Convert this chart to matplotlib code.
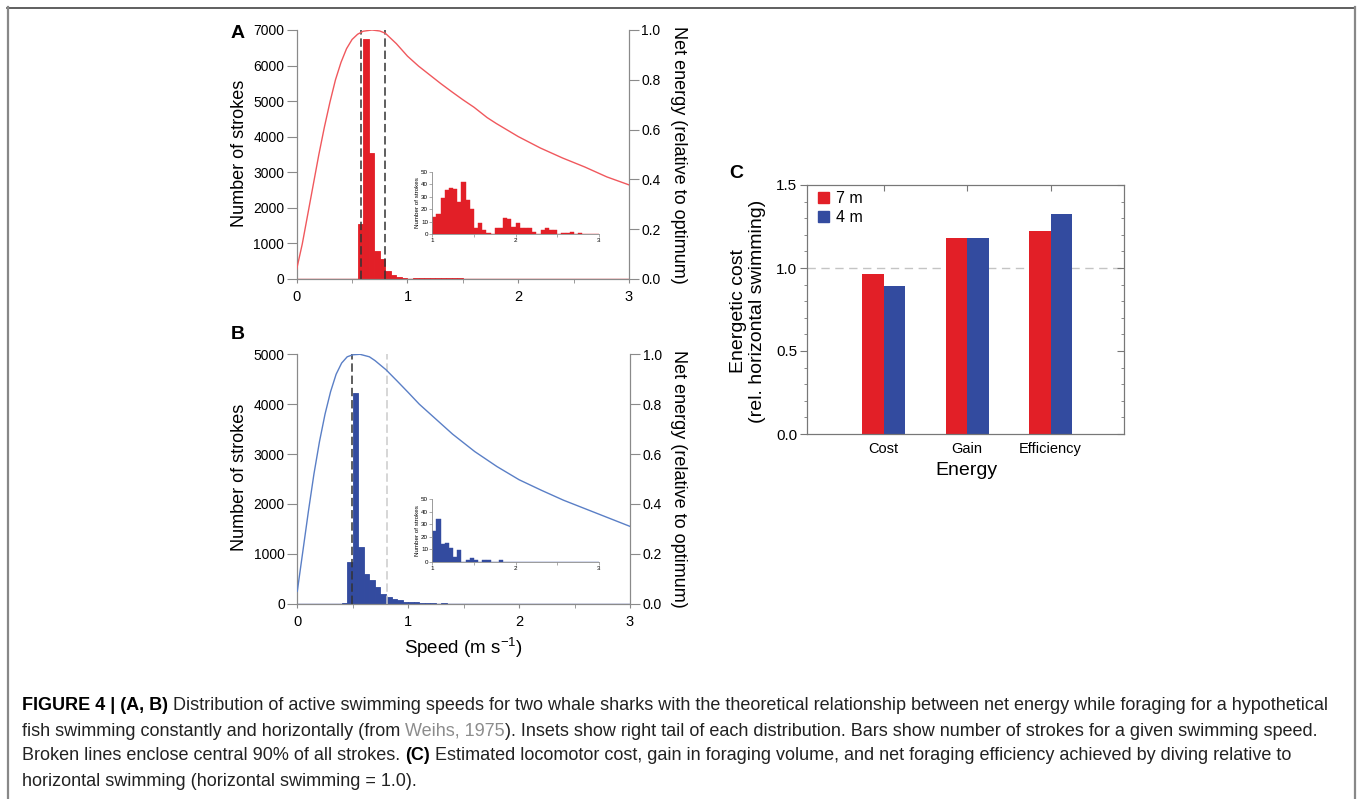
import numpy as np
import matplotlib
matplotlib.use('Agg')
import matplotlib.pyplot as plt
from matplotlib.lines import Line2D
from matplotlib.patches import Patch

plt.rcParams['font.family'] = ['Liberation Sans', 'DejaVu Sans']
plt.rcParams['mathtext.fontset'] = 'custom'
plt.rcParams['mathtext.rm'] = 'Liberation Sans'
plt.rcParams['mathtext.it'] = 'Liberation Sans:italic'

# ---- data ----
# histogram bins: left edge of each 0.05 m/s bin
bin_left = np.round(np.arange(0, 3, 0.05), 2)
bin_width = 0.05

strokes_7m = ([0] * 11 +
              [1550, 6750, 3530, 780, 550, 230, 100, 45, 20] +
              [14, 16, 29, 35, 37, 36, 26, 42, 27, 20,
               5, 9, 3, 1, 0, 5, 5, 13, 12, 6,
               9, 5, 5, 5, 2, 0, 3, 5, 3, 3,
               0, 1, 1, 2, 0, 1, 0, 0, 0, 0])
strokes_4m = ([0] * 8 +
              [10, 842, 4230, 1143, 595, 475, 341, 187, 140, 100, 67, 40] +
              [25, 34, 14, 15, 11, 4, 9, 0, 1, 3,
               1, 0, 1, 1, 0, 0, 1, 0, 0, 0] +
              [0] * 20)

# net energy curves (Weihs 1975)
curve_speed_7m = [0.00, 0.05, 0.10, 0.15, 0.20, 0.25, 0.30, 0.35, 0.40, 0.45,
                  0.50, 0.55, 0.60, 0.68, 0.75, 0.80, 0.90, 1.00, 1.10, 1.20,
                  1.30, 1.40, 1.50, 1.60, 1.72, 1.80, 2.00, 2.20, 2.40, 2.60,
                  2.80, 3.00]
curve_energy_7m = [0.04, 0.14, 0.26, 0.38, 0.50, 0.61, 0.71, 0.80, 0.87, 0.925,
                   0.962, 0.983, 0.995, 1.00, 0.996, 0.987, 0.945, 0.895, 0.855, 0.82,
                   0.785, 0.752, 0.72, 0.69, 0.648, 0.625, 0.572, 0.526, 0.486, 0.45,
                   0.41, 0.378]
curve_speed_4m = [0.00, 0.05, 0.10, 0.15, 0.20, 0.25, 0.30, 0.35, 0.40, 0.45,
                  0.50, 0.565, 0.65, 0.70, 0.80, 0.90, 1.00, 1.10, 1.20, 1.30,
                  1.40, 1.50, 1.60, 1.80, 2.00, 2.20, 2.40, 2.60, 2.80, 3.00]
curve_energy_4m = [0.05, 0.21, 0.37, 0.52, 0.65, 0.76, 0.85, 0.92, 0.965, 0.99,
                   0.998, 1.00, 0.99, 0.975, 0.938, 0.893, 0.847, 0.80, 0.76, 0.72,
                   0.68, 0.645, 0.61, 0.55, 0.497, 0.455, 0.415, 0.38, 0.345, 0.31]

# 5th / 95th percentile speeds (broken lines)
pct_7m = [0.583, 0.799]
pct_4m = [0.49, 0.805]

# panel C
energy_cats = ['Cost', 'Gain', 'Efficiency']
rel_7m = [0.964, 1.179, 1.223]
rel_4m = [0.892, 1.181, 1.327]

RED = '#e21f27'
BLUE = '#334b9f'
RED_LINE = '#f0585d'
BLUE_LINE = '#5a7fc6'
GRAY = '#8a8a8a'

W, H = 1358, 799
fig = plt.figure(figsize=(W / 100, H / 100), dpi=100)


def fx(px):
    return px / W


def fy(py):
    return 1 - py / H


def hist_panel(rect, counts, color, line_color, ymax, cx, cy, pct, pct_colors, inset_rect):
    ax = fig.add_axes(rect)
    ax.bar(bin_left, counts, width=bin_width, align='edge', color=color,
           edgecolor=color, linewidth=0.6, zorder=2)
    ax.axhline(0, color=color, lw=1.0, zorder=2)
    for x, c in zip(pct, pct_colors):
        ax.axvline(x, color=c, lw=1.1, ls=(0, (5.5, 2.5)), zorder=3)
    ax.set_xlim(0, 3)
    ax.set_ylim(0, ymax)
    ax.set_xticks([0, 1, 2, 3])
    ax.set_xticks([0.5, 1.5, 2.5], minor=True)
    ax.set_yticks(np.arange(0, ymax + 1, 1000))
    ax.spines['top'].set_visible(False)
    for s in ['left', 'bottom', 'right']:
        ax.spines[s].set_color(GRAY)
    ax.tick_params(axis='y', length=7, color=GRAY, labelsize=10, pad=2)
    ax.tick_params(axis='x', which='both', length=3, color=GRAY, labelsize=10.5, pad=5)

    ax2 = ax.twinx()
    ax2.plot(cx, cy, color=line_color, lw=1.0, zorder=4)
    ax2.set_ylim(0, 1)
    ax2.set_yticks(np.arange(0, 1.01, 0.2))
    ax2.set_yticklabels(['%.1f' % v for v in np.arange(0, 1.01, 0.2)])
    ax2.spines['top'].set_visible(False)
    for s in ['left', 'bottom', 'right']:
        ax2.spines[s].set_color(GRAY)
    ax2.tick_params(axis='y', length=7, color=GRAY, labelsize=10, pad=2)

    ins = fig.add_axes(inset_rect)
    ins.patch.set_alpha(0)
    ins.bar(bin_left[20:], counts[20:], width=bin_width, align='edge',
            color=color, edgecolor=color, linewidth=0.3)
    ins.set_xlim(1, 3)
    ins.set_ylim(0, 50)
    ins.set_xticks([1, 2, 3])
    ins.set_xticks([1.5, 2.5], minor=True)
    ins.set_yticks(range(0, 51, 10))
    for s in ['top', 'right']:
        ins.spines[s].set_visible(False)
    for s in ['left', 'bottom']:
        ins.spines[s].set_color(GRAY)
        ins.spines[s].set_linewidth(0.6)
    ins.tick_params(which='both', length=2, width=0.5, color=GRAY, labelsize=4.5, pad=1)
    ins.set_ylabel('Number of strokes', fontsize=4.5, labelpad=1)
    return ax


# panel A
hist_panel([fx(296.7), fy(279), fx(332.3), 249 / H], strokes_7m, RED, RED_LINE, 7000,
           curve_speed_7m, curve_energy_7m, pct_7m, ['#333333', '#333333'],
           [fx(432.3), fy(234), fx(166.7), 62.3 / H])
# panel B
hist_panel([fx(297.3), fy(603.7), fx(332.7), 249.4 / H], strokes_4m, BLUE, BLUE_LINE, 5000,
           curve_speed_4m, curve_energy_4m, pct_4m, ['#333333', '#cccccc'],
           [fx(432.3), fy(561.7), fx(166.7), 62.4 / H])

fig.text(fx(238), fy(33), 'A', fontsize=14, fontweight='bold', ha='center', va='center')
fig.text(fx(238), fy(335), 'B', fontsize=14, fontweight='bold', ha='center', va='center')
fig.text(fx(736), fy(173), 'C', fontsize=14, fontweight='bold', ha='center', va='center')

for yc in [153, 477]:
    fig.text(fx(239), fy(yc), 'Number of strokes', fontsize=13, rotation=90,
             ha='center', va='center')
    fig.text(fx(679), fy(yc + 2), 'Net energy (relative to optimum)', fontsize=13,
             rotation=270, ha='center', va='center')
fig.text(fx(463), fy(648), 'Speed (m s$^{-1}$)', fontsize=13.5, ha='center', va='center')

# panel C
axc = fig.add_axes([fx(807), fy(434), fx(317), 249 / H])
pos = np.arange(1, len(energy_cats) + 1)
bw = 0.256
axc.axhline(1.0, color='#c4c4c4', lw=1, ls=(0, (6, 4)), zorder=0)
axc.bar(pos - bw / 2, rel_7m, bw, color=RED, label='7 m', zorder=2)
axc.bar(pos + bw / 2, rel_4m, bw, color=BLUE, label='4 m', zorder=2)
axc.set_xlim(0.08, 3.88)
axc.set_ylim(0, 1.5)
axc.set_xticks(pos)
axc.set_xticklabels(energy_cats, fontsize=10.5)
axc.set_yticks([0, 0.5, 1.0, 1.5])
axc.set_yticklabels(['0.0', '0.5', '1.0', '1.5'], fontsize=11)
axc.set_yticks(np.arange(0, 1.51, 0.1), minor=True)
for s in axc.spines.values():
    s.set_color('#777777')
axc.tick_params(axis='y', which='major', direction='out', length=5, color='#777777', pad=2)
axc.tick_params(axis='y', which='minor', direction='out', length=2.5, color='#777777')
axc.tick_params(axis='x', which='both', bottom=False, top=True, direction='in',
                length=4, color='#777777', pad=6)
# inward ticks on the right spine
axr = axc.twinx()
axr.set_ylim(0, 1.5)
axr.set_yticks([0, 0.5, 1.0, 1.5])
axr.set_yticks(np.arange(0, 1.51, 0.1), minor=True)
axr.tick_params(axis='y', which='major', direction='in', length=5, color='#777777', labelright=False)
axr.tick_params(axis='y', which='minor', direction='in', length=2.5, color='#777777')
for s in axr.spines.values():
    s.set_color('#777777')

axc.legend(handles=[Patch(color=RED, label='7 m'), Patch(color=BLUE, label='4 m')],
           loc='upper left', bbox_to_anchor=(0.035, 0.975), frameon=False, fontsize=11.5,
           handlelength=0.7, handleheight=0.7, handletextpad=0.45, labelspacing=0.25,
           borderpad=0, borderaxespad=0)
fig.text(fx(748), fy(311), 'Energetic cost\n(rel. horizontal swimming)', fontsize=14,
         rotation=90, ha='center', va='center', linespacing=1.1)
fig.text(fx(966), fy(471), 'Energy', fontsize=14, ha='center', va='center')

# frame around the figure
fig.add_artist(Line2D([fx(7), fx(1355)], [fy(7.5), fy(7.5)], color='#444444', lw=1.2))
fig.add_artist(Line2D([fx(7.5), fx(7.5)], [fy(7), fy(800)], color='#888888', lw=1.6))
fig.add_artist(Line2D([fx(1355), fx(1355)], [fy(7), fy(800)], color='#888888', lw=1.6))

# caption
caption = [
    [('FIGURE 4 | (A, B)', 'bold', 'black'),
     (' Distribution of active swimming speeds for two whale sharks with the theoretical '
      'relationship between net energy while foraging for a hypothetical', 'normal', '#222222')],
    [('fish swimming constantly and horizontally (from ', 'normal', '#222222'),
     ('Weihs, 1975', 'normal', '#8c8c8c'),
     ('). Insets show right tail of each distribution. Bars show number of strokes for a '
      'given swimming speed.', 'normal', '#222222')],
    [('Broken lines enclose central 90% of all strokes. ', 'normal', '#222222'),
     ('(C)', 'bold', 'black'),
     (' Estimated locomotor cost, gain in foraging volume, and net foraging efficiency '
      'achieved by diving relative to', 'normal', '#222222')],
    [('horizontal swimming (horizontal swimming = 1.0).', 'normal', '#222222')],
]
renderer = fig.canvas.get_renderer()

# fit the first caption line to its width in the original
probe = [fig.text(0, 0, t, fontsize=10, fontweight=w) for t, w, c in caption[0]]
probe_w = sum(p.get_window_extent(renderer).width for p in probe)
for p in probe:
    p.remove()
cap_size = 10 * 1311 / probe_w

for i, line in enumerate(caption):
    x = 22
    y = 706 + 25 * i
    for t, w, c in line:
        txt = fig.text(fx(x), fy(y), t, fontsize=cap_size, fontweight=w, color=c,
                       ha='left', va='center')
        x = txt.get_window_extent(renderer).x1

fig.savefig('out.png', dpi=100)
